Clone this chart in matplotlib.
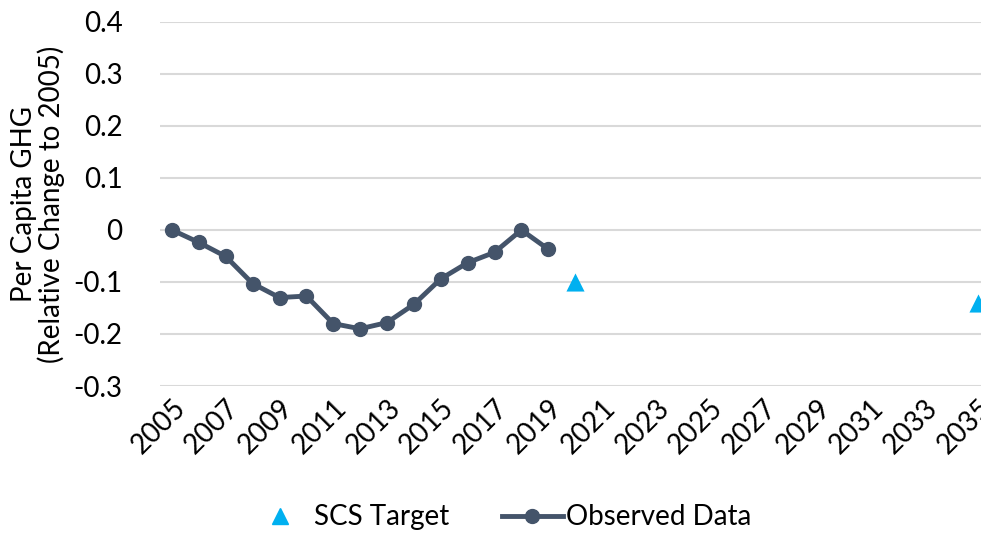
import numpy as np
import matplotlib
matplotlib.use("Agg")
from matplotlib import pyplot as plt
from matplotlib.lines import Line2D

plt.rcParams['font.family'] = ['Lato', 'DejaVu Sans']

# observed per capita GHG, relative change to 2005
obs_years = [2005, 2006, 2007, 2008, 2009, 2010, 2011, 2012, 2013, 2014,
             2015, 2016, 2017, 2018, 2019]
obs_vals = [0.0, -0.024, -0.051, -0.103, -0.130, -0.127, -0.180, -0.190,
            -0.178, -0.143, -0.094, -0.063, -0.043, 0.0, -0.037]

# SCS targets
target_years = [2020, 2035]
target_vals = [-0.10, -0.14]

xtick_years = list(range(2005, 2036, 2))
yticks = [-0.3, -0.2, -0.1, 0, 0.1, 0.2, 0.3, 0.4]
ytick_labels = ["-0.3", "-0.2", "-0.1", "0", "0.1", "0.2", "0.3", "0.4"]

line_col = "#44546A"
tri_col = "#00B0F0"
fs = 20

fig = plt.figure(figsize=(9.81, 5.35), dpi=100)
ax = fig.add_axes([0.163, 0.2785, 0.837, 0.6805])

ax.plot(obs_years, obs_vals, color=line_col, lw=3.5, marker="o", ms=10,
        zorder=3)
ax.scatter(target_years, target_vals, marker="^", s=170, color=tri_col,
           zorder=3, linewidths=0)

ax.set_xlim(2004.55, 2035.1)
ax.set_ylim(-0.3, 0.4)
ax.set_yticks(yticks)
ax.set_yticklabels(ytick_labels, fontsize=fs)
ax.set_xticks(xtick_years)
ax.set_xticklabels([str(y) for y in xtick_years], fontsize=fs, rotation=45,
                   ha="right", rotation_mode="anchor")
ax.tick_params(axis="x", length=0, pad=6)
ax.tick_params(axis="y", length=0, pad=27)
ax.grid(axis="y", color="#D9D9D9", lw=1.5)
ax.set_axisbelow(True)
for s in ax.spines.values():
    s.set_visible(False)

ax.set_ylabel("Per Capita GHG\n(Relative Change to 2005)", fontsize=fs,
              linespacing=1.0, labelpad=6)

handles = [Line2D([], [], color=tri_col, marker="^", ls="none", ms=11),
           Line2D([], [], color=line_col, marker="o", lw=3.5, ms=10)]
fig.legend(handles, ["SCS Target", "Observed Data"], loc="center",
           bbox_to_anchor=(0.51, 0.033), ncol=2, frameon=False, fontsize=fs,
           handlelength=2.2, handletextpad=0.1, columnspacing=1.9)

fig.savefig("out.png", dpi=100)
